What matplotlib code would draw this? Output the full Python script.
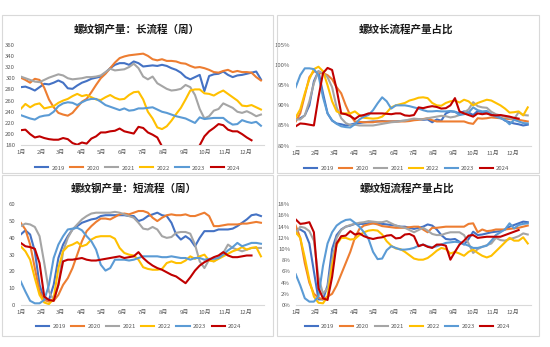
import numpy as np
import matplotlib
matplotlib.use('Agg')
import matplotlib.pyplot as plt
from matplotlib.patches import Rectangle

plt.rcParams['font.family'] = ['Noto Sans CJK SC', 'DejaVu Sans']

YEARS = ['2019', '2020', '2021', '2022', '2023', '2024']
COLORS = ['#4472C4', '#ED7D31', '#A5A5A5', '#FFC000', '#5B9BD5', '#C00000']
MONTHS = ['1月', '2月', '3月', '4月', '5月', '6月', '7月', '8月', '9月', '10月', '11月', '12月']
MONTH_START_DAY = [0, 31, 59, 90, 120, 151, 181, 212, 243, 273, 304, 334]

# 螺纹钢产量：长流程（周），万吨
LONG_2019 = [284, 285, 282, 278, 284, 290, 289, 292, 296, 292, 282, 281, 287, 292, 295, 299, 301, 303, 310, 318,
             324, 327, 327, 324, 330, 327, 321, 322, 323, 322, 324, 322, 318, 315, 310, 302, 298, 302, 306, 277,
             304, 307, 308, 312, 306, 302, 305, 306, 308, 310, 312, 298]
LONG_2020 = [301, 297, 292, 299, 297, 283, 262, 248, 238, 235, 233, 238, 248, 258, 263, 275, 288, 300, 308, 318,
             328, 336, 339, 341, 342, 343, 344, 340, 334, 332, 334, 331, 331, 330, 327, 326, 322, 319, 320, 318,
             315, 311, 310, 313, 315, 311, 313, 311, 311, 310, 302, 296]
LONG_2021 = [303, 300, 297, 294, 293, 297, 301, 304, 307, 305, 300, 298, 299, 300, 302, 302, 303, 305, 311, 317,
             314, 315, 316, 320, 326, 318, 303, 298, 303, 291, 286, 281, 278, 279, 281, 288, 284, 270, 245, 228,
             232, 242, 245, 255, 251, 247, 240, 238, 241, 237, 232, 235]
LONG_2022 = [245, 254, 248, 253, 255, 246, 248, 250, 256, 260, 263, 268, 272, 268, 270, 266, 262, 261, 266, 270,
             265, 262, 263, 270, 275, 276, 262, 240, 228, 212, 209, 214, 224, 236, 247, 262, 278, 280, 280, 273,
             272, 269, 274, 278, 272, 266, 260, 251, 250, 252, 248, 244]
LONG_2023 = [234, 231, 228, 226, 231, 233, 234, 240, 250, 255, 257, 256, 252, 257, 261, 263, 263, 258, 252, 249,
             246, 243, 246, 242, 243, 246, 246, 247, 248, 244, 240, 238, 235, 232, 230, 228, 224, 220, 230, 227,
             228, 229, 229, 229, 222, 217, 218, 225, 222, 220, 222, 215]
LONG_2024 = [207, 208, 200, 194, 196, 193, 191, 190, 190, 193, 191, 184, 181, 185, 183, 192, 196, 203, 203, 205,
             206, 210, 205, 203, 201, 213, 211, 203, 199, 194, 178, 168, 162, 160, 158, 160, 163, 170, 180, 196,
             205, 211, 218, 216, 208, 205, 205, 200, 194, 189]

# 螺纹长流程产量占比，%
LR_2019 = [86.5, 86.8, 87.5, 90, 96, 98.5, 93, 88, 86.2, 85.5, 85.3, 85, 85.2, 85.5, 85.6, 85.8, 85.9, 86, 86, 86.1,
           86, 86, 86, 86.1, 86.2, 86.3, 86.5, 86.6, 86.4, 86.5, 85.8, 86.5, 86.2, 88, 88.5, 88.4, 88, 88.5, 88.2, 87.6,
           88.6, 88.3, 88, 87.6, 87.3, 87, 86.2, 85.8, 85.5, 85.3, 85, 85.2]
LR_2020 = [86, 88, 92.5, 97, 98.5, 98, 98, 97.5, 96.5, 94.5, 93, 90, 87.5, 86, 85.9, 85.8, 85.8, 85.8, 86, 86,
           86, 86, 86, 86, 86, 86.1, 86.3, 86.4, 86.6, 86.8, 86.3, 86, 86, 86, 86, 86, 86, 86, 85.6, 85.4,
           86.8, 86.7, 86.8, 87, 86.9, 86.8, 86.7, 86.6, 86.5, 86.4, 86.2, 86]
LR_2021 = [86.5, 86.5, 87.5, 91, 95.5, 98.5, 98, 97, 94.5, 89.5, 86.8, 85.6, 85.1, 85.2, 85, 85, 85, 85, 85.2, 85.4,
           85.6, 85.8, 85.9, 86.1, 86.2, 86.5, 86.7, 86.6, 86.5, 86.8, 87, 87.2, 87.4, 87.3, 87, 87.2, 87.6, 88.2, 89, 90.8,
           89.8, 89.5, 89.4, 88.4, 87.8, 87.5, 87.2, 86.8, 86.6, 88.3, 87.6, 87.5]
LR_2022 = [87, 89, 93, 96.5, 99, 99.6, 98.5, 95, 91, 88.5, 88, 88, 88, 88.5, 87.6, 86.9, 86.8, 86.7, 86.8, 87.2,
           88.2, 89.5, 90, 90.3, 90.6, 91.2, 91.5, 91.9, 92, 91.8, 90.6, 90, 89.9, 90.6, 91, 91.2, 90.7, 91.4, 91, 90,
           90.6, 91, 91.4, 91.2, 90.6, 90, 89.2, 88.2, 88.3, 88.5, 87.5, 89.5]
LR_2023 = [94.5, 97.5, 99.2, 99.2, 99, 97.5, 92, 88, 86.3, 85.4, 84.8, 84.6, 84.5, 85.3, 86.5, 87.2, 87.6, 88.8, 90.5, 92,
           91, 89.2, 90, 90, 90, 89.8, 89.5, 89.2, 88.8, 88.5, 88.5, 88.6, 88.5, 88.5, 88.6, 88.4, 87.6, 87.8, 88.2, 89.5,
           88.8, 88.5, 88.6, 87.8, 87.2, 86.8, 86.4, 85.3, 86.4, 86, 85.6, 85.5]
LR_2024 = [84.8, 85.5, 85.4, 85.2, 85, 92, 98, 99.3, 98.8, 94, 88, 87.8, 87.3, 86.6, 87.4, 87.6, 88, 88, 88, 88,
           87.9, 87.8, 88, 88, 87.5, 87.4, 87.6, 89.5, 89.3, 89.6, 89.8, 89.6, 89.2, 89.3, 90, 91.8, 88.5, 88, 87.6, 87.2,
           88, 87.8, 88, 87.6, 87.5, 87.6, 87.4, 87.2, 86.9, 86.7]

# 螺纹钢产量：短流程（周），万吨
SHORT_2019 = [42, 44.5, 42, 32, 12, 3, 3, 12, 28, 36, 41, 45, 47, 49, 50, 51, 51.5, 53, 53.5, 53.5,
              53.5, 53.5, 53.5, 53, 53, 50, 51, 53, 54, 55, 53.5, 53, 49, 42, 39, 41, 39, 35, 40, 44,
              44, 44, 45, 45, 45, 45.5, 47, 49, 51, 53.5, 54, 53]
SHORT_2020 = [49, 45, 36, 22, 8, 3, 2, 2.5, 6, 12, 16, 22, 30, 38, 44, 47, 49.5, 51.5, 51.5, 51,
              52.5, 54, 54.5, 54, 55, 56, 56, 55, 52, 50, 52, 53.5, 54, 53.5, 53.5, 54, 53, 53, 54, 55,
              53, 47, 47, 47.5, 48, 48, 48, 48.5, 48.5, 49, 49.5, 49]
SHORT_2021 = [47, 48.5, 48, 46.5, 41, 25, 8, 3, 12, 32, 40, 45, 48, 51, 53, 54.5, 55, 55, 55, 55,
              55.5, 55, 54, 53, 52, 49, 45.5, 45, 46.5, 45, 41, 40, 40.5, 43, 43.5, 43.5, 42.5, 36, 26, 22,
              27, 26, 28, 31, 36, 34, 33, 32, 33, 34, 34, 34]
SHORT_2022 = [35, 32, 27, 16, 6, 1.5, 0.5, 4, 22, 32, 35, 36, 37.5, 35, 36, 39, 40.5, 41, 41, 41,
              39.5, 34, 31, 30, 29.5, 27, 22.5, 21.5, 21, 21, 21.5, 25, 26, 25, 25, 26.5, 29, 27.5, 29, 30,
              26.5, 26, 27.5, 29, 30.5, 32, 33, 34.5, 33, 34, 34.5, 29]
SHORT_2023 = [14, 8, 2.5, 1, 1, 3, 12, 28, 36, 41, 45, 45.5, 46, 44.5, 41, 38, 33, 24, 20.5, 22,
              27, 27, 27, 26.5, 27, 28, 29, 29, 29, 29, 28.5, 28.5, 29, 28.5, 28, 28, 27, 28, 28, 27,
              27.5, 27.5, 28, 30, 32.5, 34.5, 37, 35, 36, 37, 37, 36.5]
SHORT_2024 = [37, 35, 34.5, 33.5, 25, 5, 3, 2.5, 12, 26, 27, 27, 27.5, 28, 27, 26.5, 26.5, 27, 27.5, 28,
              28.5, 29, 28, 28.5, 29, 31.5, 28, 25.5, 23.5, 22, 21, 19.5, 18, 17, 15, 13, 16.5, 20.5, 23.5, 25.5,
              27, 28.5, 29.5, 31.5, 29.5, 28.5, 28.5, 29, 29.5, 29.5]

# 螺纹短流程产量占比，%
SR_2019 = [13.5, 13.5, 13, 11, 6, 1, 1, 3.5, 10, 12.5, 13.5, 14, 14.2, 14.5, 14.5, 14.5, 14.6, 14.6, 14.6, 14.5,
           14.4, 14.3, 14.2, 14, 14, 13.8, 13.6, 13.8, 14, 14.4, 14.2, 13.5, 12.5, 11.8, 11.7, 11.8, 11.3, 10.8, 11.8, 13.1,
           12.5, 12.6, 12.8, 13, 13.1, 13.2, 13.5, 14, 14.3, 14.6, 14.9, 14.8]
SR_2020 = [14.2, 12, 7.5, 4, 2, 1.3, 1, 1.5, 2, 3.5, 5.5, 7.5, 9.5, 12, 13.6, 14.2, 14.4, 14.6, 14.4, 14.1,
           14, 13.9, 13.8, 13.8, 13.8, 13.9, 14, 14, 13.5, 13, 13.8, 13.8, 13.9, 14, 14, 14, 14, 14, 14.5, 14.6,
           13, 13.5, 13.2, 13.3, 13.5, 13.5, 13.5, 13.6, 13.7, 13.8, 14, 14.2]
SR_2021 = [12.8, 14, 13.8, 13.2, 11.5, 5, 2, 3, 8, 12, 13.4, 14, 14.3, 14.5, 14.7, 14.8, 15, 14.9, 14.8, 14.8,
           15, 14.6, 14.2, 14, 13.8, 13.4, 13, 13.4, 13.8, 13.3, 12.7, 12.5, 12.5, 12.8, 13, 13, 13, 12.5, 11, 9.3,
           10, 10.4, 10.7, 11, 12, 11.6, 11.5, 11.8, 12, 12.3, 12.8, 12.6]
SR_2022 = [13, 12, 8.5, 4.5, 1.5, 0.4, 0.3, 1.5, 7, 10.8, 12, 12, 11.7, 11.8, 12.5, 13, 13.3, 13.4, 13.3, 12.6,
           11.4, 10.6, 10.1, 10, 9.5, 8.9, 8.3, 8.1, 8.1, 8.4, 9, 9.7, 10.2, 10, 9.2, 9.5, 9.2, 8.8, 9.5, 9.9,
           9.3, 8.8, 8.5, 8.8, 9.6, 10.4, 11.2, 12, 11.5, 11.5, 12.1, 11]
SR_2023 = [5.5, 3.5, 1.2, 0.6, 0.6, 1.5, 7, 11, 13, 14.2, 14.8, 15.2, 15.3, 14.7, 14, 13, 11.8, 9.5, 8.2, 8.3,
           9.8, 10.5, 10.2, 9.9, 9.9, 10, 10.2, 10.6, 10.8, 10.5, 10.3, 10.5, 10.8, 11.1, 11.2, 11.3, 11.2, 10.9, 10.6, 10.2,
           10.2, 10.4, 10.6, 11.5, 12.5, 13, 13.5, 14.6, 13.7, 14.3, 14.5, 14.6]
SR_2024 = [15.3, 14.5, 14.6, 14.8, 13, 3, 1.2, 0.9, 5, 11, 12.3, 12.4, 13.2, 12.6, 12.8, 12.3, 12, 11.8, 12, 12.1,
           12.4, 12.5, 11.9, 12, 12.6, 12.7, 12.3, 10.5, 10.8, 10.4, 10.2, 10.8, 10.8, 10.6, 8.1, 9.5, 10.8, 11.5, 12.4, 12.5,
           12, 12.1, 12.2, 12.2, 12.2, 12.2, 12.5, 12.8, 13.1, 13.4]

W, H = 550, 347
fig = plt.figure(figsize=(W / 100, H / 100), dpi=100)
fig.patch.set_facecolor('white')

TICK_COLOR = '#595959'
AXIS_COLOR = '#D9D9D9'


def frame(x0, y0, x1, y1):
    fig.patches.append(Rectangle((x0 / W, 1 - y1 / H), (x1 - x0) / W, (y1 - y0) / H,
                                 transform=fig.transFigure, fill=False,
                                 edgecolor='#D9D9D9', lw=0.8))


def panel(rect, title, title_xy, series, ylim, yticks, fmt, leg_x, leg_y):
    x0, y0, x1, y1 = rect
    ax = fig.add_axes([x0 / W, 1 - y1 / H, (x1 - x0) / W, (y1 - y0) / H])
    for year, color, vals in zip(YEARS, COLORS, series):
        days = np.arange(len(vals)) * 7
        ax.plot(days, vals, color=color, lw=1.5, label=year, solid_joinstyle='round')
    ax.set_xlim(0, 362)
    ax.set_ylim(*ylim)
    ax.set_xticks(MONTH_START_DAY)
    ax.set_xticklabels(MONTHS)
    ax.set_yticks(yticks)
    ax.set_yticklabels([fmt(v) for v in yticks])
    ax.tick_params(length=0, labelsize=4.3, colors=TICK_COLOR)
    ax.tick_params(axis='x', pad=3.5)
    ax.tick_params(axis='y', pad=4)
    for side in ['top', 'right', 'left']:
        ax.spines[side].set_visible(False)
    ax.spines['bottom'].set_color(AXIS_COLOR)
    ax.spines['bottom'].set_linewidth(0.8)
    ax.set_facecolor('none')
    fig.text(title_xy[0] / W, 1 - title_xy[1] / H, title, ha='center', va='center',
             fontsize=7.6, fontweight='bold', color='#1a1a1a')
    leg = ax.legend(loc='center', bbox_to_anchor=(leg_x, leg_y), ncol=6, frameon=False,
                    fontsize=4.3, handlelength=2.2, handletextpad=0.55, columnspacing=0.9)
    for t in leg.get_texts():
        t.set_color(TICK_COLOR)
    return ax


frame(2, 15, 273, 173)
frame(277, 15, 539, 173)
frame(2, 175, 273, 336)
frame(277, 175, 539, 336)

panel((20.7, 44.7, 264.3, 145.3), '螺纹钢产量：长流程（周）', (137, 29),
      [LONG_2019, LONG_2020, LONG_2021, LONG_2022, LONG_2023, LONG_2024],
      (180, 360), list(range(180, 361, 20)), lambda v: f'{v}', 0.48, -0.225)

panel((295.7, 45, 531, 145.6), '螺纹长流程产量占比', (406, 29),
      [LR_2019, LR_2020, LR_2021, LR_2022, LR_2023, LR_2024],
      (80, 105), list(range(80, 106, 5)), lambda v: f'{v}%', 0.472, -0.223)

panel((20.7, 204.3, 264.3, 305), '螺纹钢产量：短流程（周）', (134, 188.5),
      [SHORT_2019, SHORT_2020, SHORT_2021, SHORT_2022, SHORT_2023, SHORT_2024],
      (0, 60), list(range(0, 61, 10)), lambda v: f'{v}', 0.484, -0.215)

panel((295.7, 204.3, 531, 305), '螺纹短流程产量占比', (406.5, 188.5),
      [SR_2019, SR_2020, SR_2021, SR_2022, SR_2023, SR_2024],
      (0, 18), list(range(0, 19, 2)), lambda v: f'{v}%', 0.474, -0.215)

fig.savefig('out.png', dpi=100)
